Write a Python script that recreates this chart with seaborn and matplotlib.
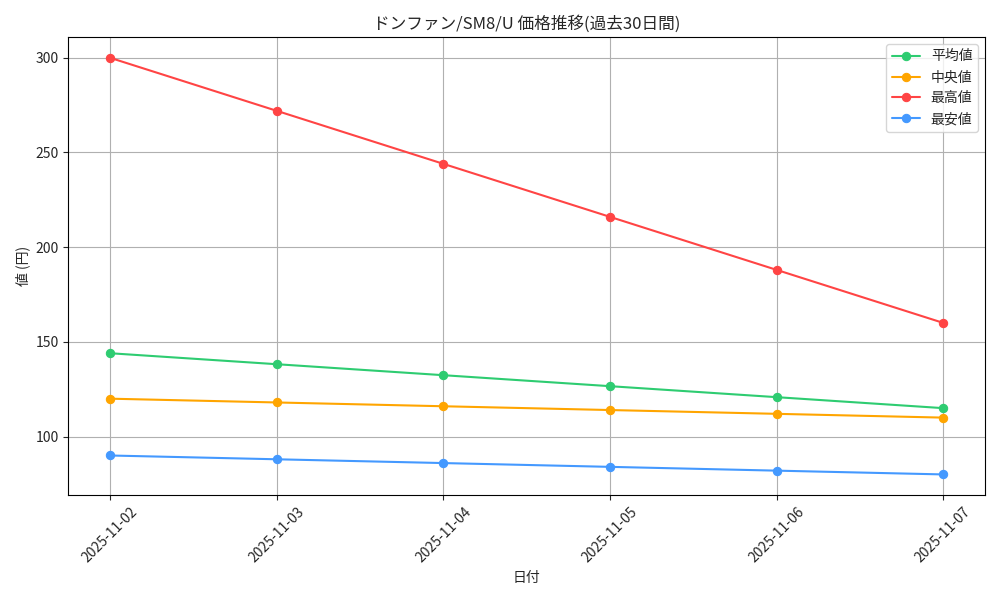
import pandas as pd
import seaborn as sns
import matplotlib.pyplot as plt

dates = ["2025-11-02", "2025-11-03", "2025-11-04", "2025-11-05", "2025-11-06", "2025-11-07"]
avg_price = [144, 138.2, 132.4, 126.6, 120.8, 115]
median_price = [120, 118, 116, 114, 112, 110]
max_price = [300, 272, 244, 216, 188, 160]
min_price = [90, 88, 86, 84, 82, 80]

labels = ["平均値", "中央値", "最高値", "最安値"]
colors = ["#2ecc71", "#ffa500", "#ff4444", "#4499ff"]

df = pd.DataFrame({"日付": dates})
series = [avg_price, median_price, max_price, min_price]

sns.set_style("white")
plt.rcParams["font.family"] = ["Noto Sans CJK JP", "DejaVu Sans"]

fig, ax = plt.subplots(figsize=(10, 6), dpi=100)

for label, vals, color in zip(labels, series, colors):
    sns.lineplot(x=df["日付"], y=vals, marker="o", markersize=6,
                 markeredgecolor=color, color=color, label=label, ax=ax)

ax.set_title("ドンファン/SM8/U 価格推移(過去30日間)", fontsize=12)
ax.set_xlabel("日付")
ax.set_ylabel("値 (円)")
ax.grid(True, color="#b0b0b0", linewidth=0.8)
ax.set_axisbelow(True)
plt.xticks(rotation=45)
for s in ax.spines.values():
    s.set_color("black")
ax.tick_params(axis="both", which="both", length=3.5, bottom=True, left=True)
ax.legend(loc="upper right")

plt.tight_layout()
plt.savefig("out.png")
